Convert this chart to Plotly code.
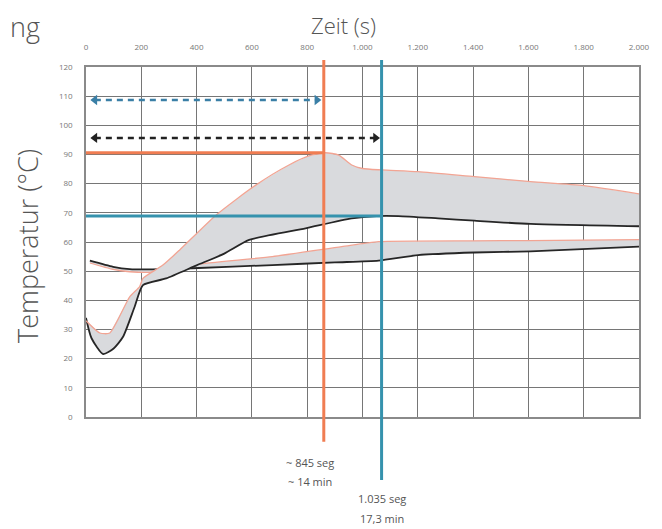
import plotly.graph_objects as go

# ---------------- data ----------------
x_ticks = [0, 200, 400, 600, 800, 1000, 1200, 1400, 1600, 1800, 2000]
x_tick_labels = ["0", "200", "400", "600", "800", "1.000", "1.200", "1.400", "1.600", "1.800", "2.000"]
y_ticks = [0, 10, 20, 30, 40, 50, 60, 70, 80, 90, 100, 110, 120]

# upper band: top (salmon) and bottom (black) boundaries
upper_top_x = [0, 50, 86, 158, 194, 206, 277, 338, 470, 614, 734, 806, 866, 914, 961, 1000, 1069, 1201, 1405, 1608, 1801, 2000]
upper_top_y = [33, 28.8, 28.8, 41.2, 44.7, 47.5, 52, 57.2, 69.2, 79.5, 86.4, 89.5, 90.6, 89.8, 86.4, 85.2, 84.7, 84.1, 82.4, 80.7, 79.3, 76.5]
upper_bot_x = [0, 20, 62, 100, 134, 176, 206, 290, 400, 500, 590, 794, 961, 1050, 1130, 1273, 1405, 1608, 2000]
upper_bot_y = [34, 27, 21.6, 23.5, 27.5, 37.8, 45.2, 47.5, 52, 56, 60.7, 64.7, 68.1, 68.9, 68.9, 68.1, 67.3, 66.2, 65.4]

# lower band: top (salmon) and bottom (black) boundaries
lower_top_x = [14, 98, 158, 230, 300, 398, 674, 925, 1058, 1400, 1600, 2000]
lower_top_y = [52.8, 50.6, 49.8, 49.6, 50.5, 52.3, 55, 58.4, 60.1, 60.4, 60.5, 60.8]
lower_bot_x = [14, 98, 158, 230, 386, 674, 900, 1058, 1201, 1405, 1608, 2000]
lower_bot_y = [53.6, 51.5, 50.7, 50.6, 51, 52.1, 53, 53.6, 55.5, 56.4, 56.8, 58.4]

# markers
t_orange = 860      # ~845 seg
t_blue = 1069       # 1.035 seg
temp_orange = 90.6
temp_blue = 68.9
arrow_blue = dict(x0=32, x1=835, y=108.7)
arrow_black = dict(x0=32, x1=1047, y=95.7)

labels_orange = ["~ 845 seg", "~ 14 min"]
labels_blue = ["1.035 seg", "17,3 min"]

# ---------------- style ----------------
GRAY_FILL = "#d9dadd"
SALMON = "#f2a493"
BLACK = "#262626"
ORANGE = "#f07d52"
BLUE = "#3592ad"
GRID = "#767676"
FONT = "Open Sans"

fig = go.Figure()

# lower band fill
fig.add_trace(go.Scatter(
    x=lower_top_x + lower_bot_x[::-1], y=lower_top_y + lower_bot_y[::-1],
    fill="toself", fillcolor=GRAY_FILL, line=dict(width=0), mode="lines",
    hoverinfo="skip", showlegend=False))
fig.add_trace(go.Scatter(x=lower_bot_x, y=lower_bot_y, mode="lines",
                         line=dict(color=BLACK, width=1.8, shape="spline", smoothing=0.6),
                         showlegend=False))
fig.add_trace(go.Scatter(x=lower_top_x, y=lower_top_y, mode="lines",
                         line=dict(color=SALMON, width=1.3, shape="spline", smoothing=0.6),
                         showlegend=False))

# upper band fill
fig.add_trace(go.Scatter(
    x=upper_top_x + upper_bot_x[::-1], y=upper_top_y + upper_bot_y[::-1],
    fill="toself", fillcolor=GRAY_FILL, line=dict(width=0), mode="lines",
    hoverinfo="skip", showlegend=False))
fig.add_trace(go.Scatter(x=upper_bot_x, y=upper_bot_y, mode="lines",
                         line=dict(color=BLACK, width=1.8, shape="spline", smoothing=0.6),
                         showlegend=False))
fig.add_trace(go.Scatter(x=upper_top_x, y=upper_top_y, mode="lines",
                         line=dict(color=SALMON, width=1.3, shape="spline", smoothing=0.6),
                         showlegend=False))

# dashed double arrows
for arr, col in [(arrow_blue, "#3a7fa6"), (arrow_black, "#222222")]:
    fig.add_trace(go.Scatter(x=[arr["x0"], arr["x1"]], y=[arr["y"], arr["y"]], mode="lines",
                             line=dict(color=col, width=2.5, dash="6px,5px"), showlegend=False))
    fig.add_trace(go.Scatter(x=[arr["x0"], arr["x1"]], y=[arr["y"], arr["y"]], mode="markers",
                             marker=dict(symbol=["triangle-left", "triangle-right"], size=9, color=col),
                             showlegend=False))

shapes = [
    # horizontal reference lines
    dict(type="line", xref="x", yref="y", x0=0, x1=t_orange, y0=temp_orange, y1=temp_orange,
         line=dict(color=ORANGE, width=3)),
    dict(type="line", xref="x", yref="y", x0=0, x1=t_blue, y0=temp_blue, y1=temp_blue,
         line=dict(color=BLUE, width=3)),
    # vertical reference lines (extend beyond plot)
    dict(type="line", xref="x", yref="paper", x0=t_orange, x1=t_orange, y0=-0.071, y1=1.02,
         line=dict(color=ORANGE, width=3)),
    dict(type="line", xref="x", yref="paper", x0=t_blue, x1=t_blue, y0=-0.18, y1=1.02,
         line=dict(color=BLUE, width=3)),
]

annotations = [
    dict(text=labels_orange[0], x=810, xref="x", y=-0.129, yref="paper", showarrow=False,
         font=dict(size=11, color="#555", family=FONT), xanchor="center", yanchor="middle"),
    dict(text=labels_orange[1], x=810, xref="x", y=-0.183, yref="paper", showarrow=False,
         font=dict(size=11, color="#555", family=FONT), xanchor="center", yanchor="middle"),
    dict(text=labels_blue[0], x=t_blue, xref="x", y=-0.234, yref="paper", showarrow=False,
         font=dict(size=11, color="#555", family=FONT), xanchor="center", yanchor="middle"),
    dict(text=labels_blue[1], x=t_blue, xref="x", y=-0.291, yref="paper", showarrow=False,
         font=dict(size=11, color="#555", family=FONT), xanchor="center", yanchor="middle"),
    dict(text="Zeit (s)", x=0.465, xref="paper", y=1.1686, yref="paper", showarrow=False,
         font=dict(size=22, color="#555", family=FONT, weight=300), xanchor="center", yanchor="top"),
    dict(text="Temperatur (°C)", x=-0.106, xref="paper", y=0.49, yref="paper", showarrow=False,
         textangle=-90, font=dict(size=27, color="#555", family=FONT, weight=300),
         xanchor="center", yanchor="middle"),
    dict(text="ng", x=-0.08, xref="paper", y=1.115, yref="paper", showarrow=False,
         font=dict(size=27, color="#555", family=FONT, weight=300), xanchor="right", yanchor="middle"),
]

# the page body adds an 8px offset; margins compensate so the plot sits where the reference has it
fig.update_layout(
    width=654, height=521,
    margin=dict(l=78, r=20, t=59, b=112),
    paper_bgcolor="white", plot_bgcolor="white",
    shapes=shapes, annotations=annotations,
    showlegend=False,
    xaxis=dict(range=[0, 2000], side="top", tickvals=x_ticks, ticktext=x_tick_labels,
               showgrid=True, gridcolor=GRID, gridwidth=1.3, zeroline=False,
               showline=True, linecolor="#8a8a8a", linewidth=1.5, mirror=True,
               ticks="", ticklabelstandoff=12,
               tickfont=dict(size=8, color="#777", family=FONT)),
    yaxis=dict(range=[0, 120], tickvals=y_ticks,
               showgrid=True, gridcolor=GRID, gridwidth=1.3, zeroline=False,
               showline=True, linecolor="#8a8a8a", linewidth=1.5, mirror=True,
               ticks="", ticklabelstandoff=10,
               tickfont=dict(size=8, color="#777", family=FONT)),
)

fig.write_html("out.html")
